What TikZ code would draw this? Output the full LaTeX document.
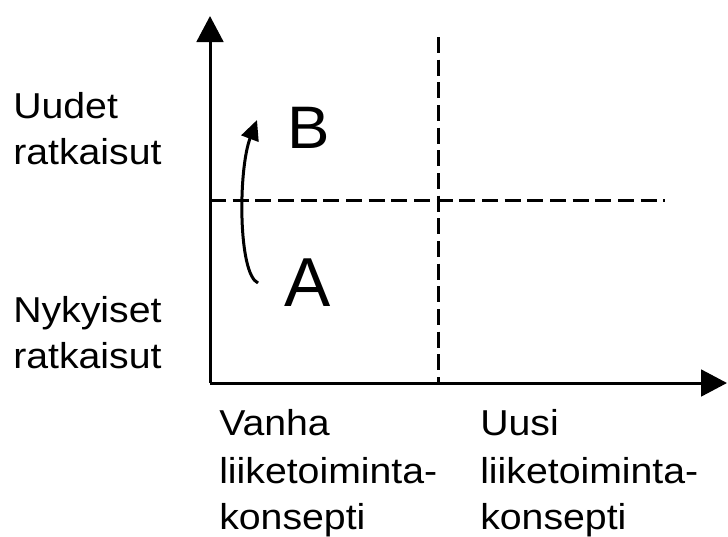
\documentclass[tikz,border=0pt]{standalone}
\usepackage{fontspec}
\setmainfont{Liberation Sans}
\newfontfamily\widefont[FakeStretch=1.09]{Liberation Sans}
\newfontfamily\bfont[FakeStretch=1.06]{Liberation Sans}
\usetikzlibrary{arrows.meta}
\begin{document}
\begin{tikzpicture}[x=0.75pt,y=-0.75pt,
  axis/.style={line width=2.25pt,-{Triangle[length=19.5pt,width=20pt]}},
  dashline/.style={line width=2.25pt,dash pattern=on 12pt off 5pt},
  lbl/.style={anchor=base west,inner sep=0pt,font=\widefont\fontsize{27}{32}\selectfont},
  big/.style={anchor=base west,inner sep=0pt}]
\useasboundingbox (0,0) rectangle (728,536);
\coordinate (o) at (210,383);
\coordinate (ytop) at (210,16);
\coordinate (xend) at (727,383);
\coordinate (vtop) at (438,37);
\coordinate (vbot) at (438,383);
\coordinate (hl) at (210,200);
\coordinate (hr) at (665,200);
\draw[dashline] (vtop) -- (vbot);
\draw[dashline] (hl) -- (hr);
\draw[axis] (o) -- (ytop);
\draw[axis] (o) -- (xend);
\coordinate (cs) at (258,283);
\coordinate (ce) at (257,120);
\draw[line width=2.25pt,-{Triangle[length=15pt,width=13.5pt]}] (cs) .. controls (238,274) and (238,170) .. (ce);
\node[big,font=\fontsize{52}{60}\selectfont] (A) at (284,306) {A};
\node[big,font=\bfont\fontsize{45}{52}\selectfont] (B) at (287,148) {B};
\node[lbl] (u1) at (13,118) {Uudet};
\node[lbl] (u2) at (13,164) {ratkaisut};
\node[lbl] (n1) at (13,322) {Nykyiset};
\node[lbl] (n2) at (13,368) {ratkaisut};
\node[lbl] (v1) at (219,435) {Vanha};
\node[lbl] (v2) at (219,483) {liiketoiminta-};
\node[lbl] (v3) at (219,529) {konsepti};
\node[lbl] (w1) at (480,435) {Uusi};
\node[lbl] (w2) at (480,483) {liiketoiminta-};
\node[lbl] (w3) at (480,529) {konsepti};
\end{tikzpicture}
\end{document}
